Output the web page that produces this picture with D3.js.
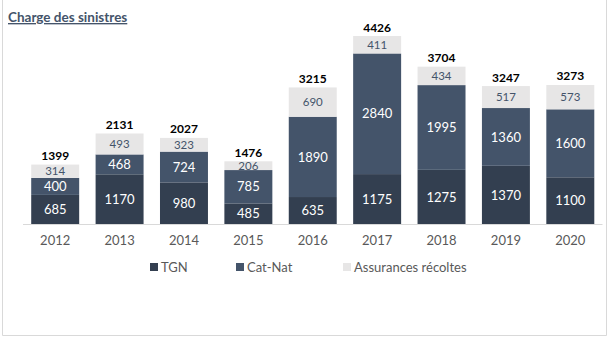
<!DOCTYPE html>
<html><head><meta charset="utf-8">
<script src="https://cdn.jsdelivr.net/npm/d3@7"></script>
<style>body{margin:0;background:#fff}svg{display:block}</style>
</head><body>
<svg id="c" width="612" height="337"></svg>
<script>
const years = ["2012","2013","2014","2015","2016","2017","2018","2019","2020"];
const tgn = [685,1170,980,485,635,1175,1275,1370,1100];
const catnat = [400,468,724,785,1890,2840,1995,1360,1600];
const recoltes = [314,493,323,206,690,411,434,517,573];
const totals = [1399,2131,2027,1476,3215,4426,3704,3247,3273];
const seriesNames = ["TGN","Cat-Nat","Assurances récoltes"];
const colors = ["#333f50","#44546a","#e7e6e6"];
const labelColors = ["#ffffff","#ffffff","#44546a"];
const font = "Lato, 'Open Sans', sans-serif";

const svg = d3.select("#c");
svg.append("path").attr("d","M2.5,0 V335.5 H606.5 V0").attr("fill","none").attr("stroke","#d9d9d9");

svg.append("text").attr("x",8).attr("y",22).text("Charge des sinistres")
  .attr("font-family",font).attr("font-weight","bold").attr("font-size",13.5)
  .attr("fill","#44546a").attr("text-decoration","underline");

const x = d3.scaleBand().domain(years).range([23,602.5]).paddingInner(0.255).paddingOuter(0.1275);
const y = d3.scaleLinear().domain([0,4426]).range([224,36]);

const rows = years.map((yr,i)=>({year:yr,TGN:tgn[i],"Cat-Nat":catnat[i],"Assurances récoltes":recoltes[i]}));
const stacked = d3.stack().keys(seriesNames)(rows);

stacked.forEach((s,si)=>{
  const g = svg.append("g");
  g.selectAll("rect").data(s).join("rect")
    .attr("x",d=>x(d.data.year)).attr("width",x.bandwidth())
    .attr("y",d=>y(d[1])).attr("height",d=>y(d[0])-y(d[1]))
    .attr("fill",colors[si]);
  g.selectAll("text").data(s).join("text")
    .attr("x",d=>x(d.data.year)+x.bandwidth()/2)
    .attr("y",d=>(y(d[0])+y(d[1]))/2)
    .attr("dy","0.36em").attr("text-anchor","middle")
    .attr("font-family",font).attr("font-size",si===2?11.5:13)
    .attr("fill",labelColors[si])
    .text(d=>d[1]-d[0]);
});

svg.append("g").selectAll("text").data(years).join("text")
  .attr("x",d=>x(d)+x.bandwidth()/2)
  .attr("y",(d,i)=>y(totals[i])-4.5)
  .attr("text-anchor","middle").attr("font-family",font).attr("font-weight","bold")
  .attr("font-size",12).attr("fill","#000").text((d,i)=>totals[i]);

const ax = svg.append("g").attr("transform","translate(0,224)")
  .call(d3.axisBottom(x).tickSize(0).tickPadding(12));
ax.select(".domain").attr("stroke","#d9d9d9").attr("d","M23,0.5H602.5");
ax.selectAll("text").attr("font-family",font).attr("font-size",13).attr("fill","#595959");

const legX = [150,236,343];
const lg = svg.append("g");
seriesNames.forEach((n,i)=>{
  lg.append("rect").attr("x",legX[i]).attr("y",263).attr("width",8).attr("height",8).attr("fill",colors[i]);
  lg.append("text").attr("x",legX[i]+11).attr("y",271.5).text(n)
    .attr("font-family",font).attr("font-size",13).attr("fill","#595959");
});
</script>
</body></html>
